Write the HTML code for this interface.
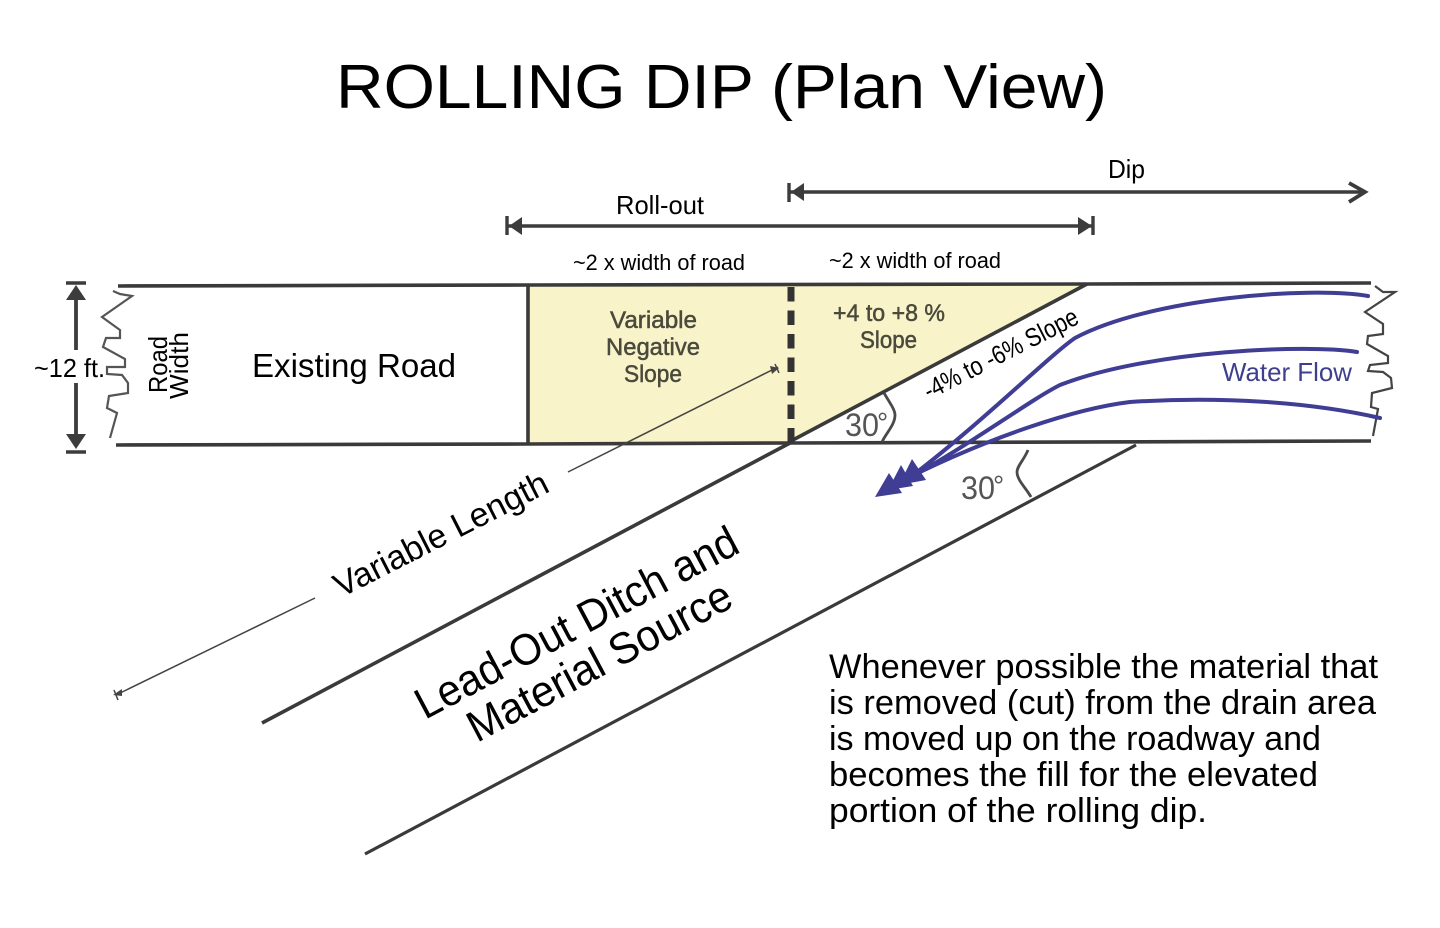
<!DOCTYPE html>
<html><head><meta charset="utf-8"><style>
html,body{margin:0;padding:0;background:#fff}
svg{display:block}
text{font-family:"Liberation Sans",sans-serif;fill:#000}
</style></head><body>
<svg width="1440" height="928" viewBox="0 0 1440 928" xmlns="http://www.w3.org/2000/svg">
<rect width="1440" height="928" fill="#fff"/>
<text x="336" y="108" font-size="62" textLength="771" lengthAdjust="spacingAndGlyphs">ROLLING DIP (Plan View)</text>

<polygon points="528,285 1087,284 791,442 528,443" fill="#f8f3c9"/>
<g fill="none" stroke="#3a3a3a" stroke-width="3.6">
<polyline points="118,286 528,285 1090,284 1371,283"/>
<polyline points="116,445 528,444 790,443 1371,441"/>
<line x1="528" y1="284" x2="528" y2="445"/>
<line x1="1087" y1="284" x2="791" y2="441"/>
<line x1="790" y1="443" x2="262" y2="723"/>
<line x1="1136" y1="445" x2="365" y2="854" stroke-width="3.2"/>
</g>
<line x1="791" y1="287" x2="791" y2="443" stroke="#333" stroke-width="7" stroke-dasharray="14.5 9"/>

<g fill="none" stroke="#555" stroke-width="2.2">
<polyline points="113,291 120,294 132,296 102,317 120,330 120,338 106,338 103,347 125,359 125,367 107,367 107,374 122,375 128,383 128,393 109,396 107,408 117,413 110,438"/>
<polyline stroke="#444" points="1375,286 1383,292 1395,292 1365,312 1383,324 1383,334 1368,336 1367,344 1388,356 1388,363 1370,365 1368,371 1383,372 1391,378 1392,388 1372,393 1371,407 1378,409 1373,436"/>
</g>

<g stroke="#3c3c3c" fill="#3c3c3c">
<line x1="76" y1="296" x2="76" y2="350" stroke-width="3.8"/>
<line x1="76" y1="383" x2="76" y2="438" stroke-width="3.8"/>
<line x1="66" y1="283" x2="86" y2="283" stroke-width="3.4"/>
<line x1="66" y1="452" x2="86" y2="452" stroke-width="3.4"/>
<polygon points="76,285 66,300 86,300" stroke="none"/>
<polygon points="76,449 66,434 86,434" stroke="none"/>
<line x1="507" y1="226" x2="1093" y2="226" stroke-width="3.6"/>
<line x1="507" y1="216" x2="507" y2="235" stroke-width="3.4"/>
<line x1="1093" y1="216" x2="1093" y2="235" stroke-width="3.4"/>
<polygon points="509,226 522,217 522,235" stroke="none"/>
<polygon points="1092,226 1078,217 1078,235" stroke="none"/>
<line x1="789" y1="192" x2="1364" y2="192" stroke-width="3.6"/>
<line x1="789" y1="183" x2="789" y2="202" stroke-width="3.4"/>
<polygon points="791,192 804,183 804,201" stroke="none"/>
<polyline points="1349,183 1365,192 1349,202" fill="none" stroke-width="3.8"/>
</g>

<g stroke="#444" stroke-width="1.5" fill="none">
<line x1="116" y1="695" x2="315" y2="598"/>
<line x1="568" y1="472" x2="778" y2="367"/>
<line x1="114" y1="690" x2="118" y2="700"/>
<line x1="775" y1="364" x2="779" y2="373"/>
</g>
<polygon points="113,695 122,689 122,696" fill="#444"/>
<polygon points="779,368 770,366 772,374" fill="#444"/>

<g fill="none" stroke="#4a4a4a" stroke-width="2.8">
<path d="M884,393 C890,403 895,410 895,415 C895,425 886,433 882,442"/>
<path d="M1028,450 C1024,460 1017,466 1017,472 C1017,480 1026,488 1031,497"/>
</g>

<g fill="none" stroke="#3f3d94" stroke-width="4" stroke-linecap="round">
<path d="M1368,296 C1310,286 1150,298 1075,338 C1050,355 985,420 912,476"/>
<path d="M1357,352 C1310,344 1150,350 1060,385 C1030,400 970,445 902,482"/>
<path d="M1380,418 C1310,402 1220,396 1130,402 C1080,408 990,435 890,487"/>
</g>
<g fill="#3f3d94">
<polygon points="875,497 889,473 902,493"/>
<polygon points="888,490 901,465 913,486"/>
<polygon points="899,485 912,459 926,480"/>
</g>

<g font-size="26">
<text x="34" y="377" textLength="71" lengthAdjust="spacingAndGlyphs">~12 ft.</text>
<text transform="translate(167,393) rotate(-90)" textLength="57" lengthAdjust="spacingAndGlyphs">Road</text>
<text transform="translate(188,399) rotate(-90)" textLength="67" lengthAdjust="spacingAndGlyphs">Width</text>
<text x="616" y="214" textLength="88" lengthAdjust="spacingAndGlyphs">Roll-out</text>
<text x="1108" y="178" textLength="37" lengthAdjust="spacingAndGlyphs">Dip</text>
</g>
<text x="252" y="377" font-size="33" textLength="204" lengthAdjust="spacingAndGlyphs">Existing Road</text>
<text x="573" y="270" font-size="22" textLength="172" lengthAdjust="spacingAndGlyphs">~2 x width of road</text>
<text x="829" y="268" font-size="22" textLength="172" lengthAdjust="spacingAndGlyphs">~2 x width of road</text>

<g font-size="24" stroke="#4a4a3c" stroke-width=".5">
<text x="610" y="328" textLength="87" lengthAdjust="spacingAndGlyphs" style="fill:#4a4a3c">Variable</text>
<text x="606" y="355" textLength="94" lengthAdjust="spacingAndGlyphs" style="fill:#4a4a3c">Negative</text>
<text x="624" y="382" textLength="58" lengthAdjust="spacingAndGlyphs" style="fill:#4a4a3c">Slope</text>
<text x="833" y="321" textLength="112" lengthAdjust="spacingAndGlyphs" style="fill:#4a4a3c">+4 to +8 %</text>
<text x="860" y="348" textLength="57" lengthAdjust="spacingAndGlyphs" style="fill:#4a4a3c">Slope</text>
</g>
<text x="845" y="436" font-size="32" textLength="34" lengthAdjust="spacingAndGlyphs" style="fill:#555">30</text>
<text x="877" y="432" font-size="28" style="fill:#555">°</text>
<text x="961" y="499" font-size="32" textLength="34" lengthAdjust="spacingAndGlyphs" style="fill:#555">30</text>
<text x="993" y="495" font-size="28" style="fill:#555">°</text>
<text x="1222" y="381" font-size="26" textLength="130" lengthAdjust="spacingAndGlyphs" style="fill:#3f3f8f">Water Flow</text>

<text transform="translate(929,400) rotate(-27)" font-size="26" textLength="170" lengthAdjust="spacingAndGlyphs">-4% to -6% Slope</text>
<text transform="translate(341,598) rotate(-27)" font-size="34" textLength="236" lengthAdjust="spacingAndGlyphs">Variable Length</text>
<text transform="translate(425,720) rotate(-28)" font-size="44" textLength="359" lengthAdjust="spacingAndGlyphs">Lead-Out Ditch and</text>
<text transform="translate(477,743) rotate(-28)" font-size="44" textLength="293" lengthAdjust="spacingAndGlyphs">Material Source</text>

<g font-size="34">
<text x="829" y="678" textLength="549" lengthAdjust="spacingAndGlyphs">Whenever possible the material that</text>
<text x="829" y="714" textLength="547" lengthAdjust="spacingAndGlyphs">is removed (cut) from the drain area</text>
<text x="829" y="750" textLength="492" lengthAdjust="spacingAndGlyphs">is moved up on the roadway and</text>
<text x="829" y="786" textLength="489" lengthAdjust="spacingAndGlyphs">becomes the fill for the elevated</text>
<text x="829" y="822" textLength="378" lengthAdjust="spacingAndGlyphs">portion of the rolling dip.</text>
</g>
</svg>
</body></html>
